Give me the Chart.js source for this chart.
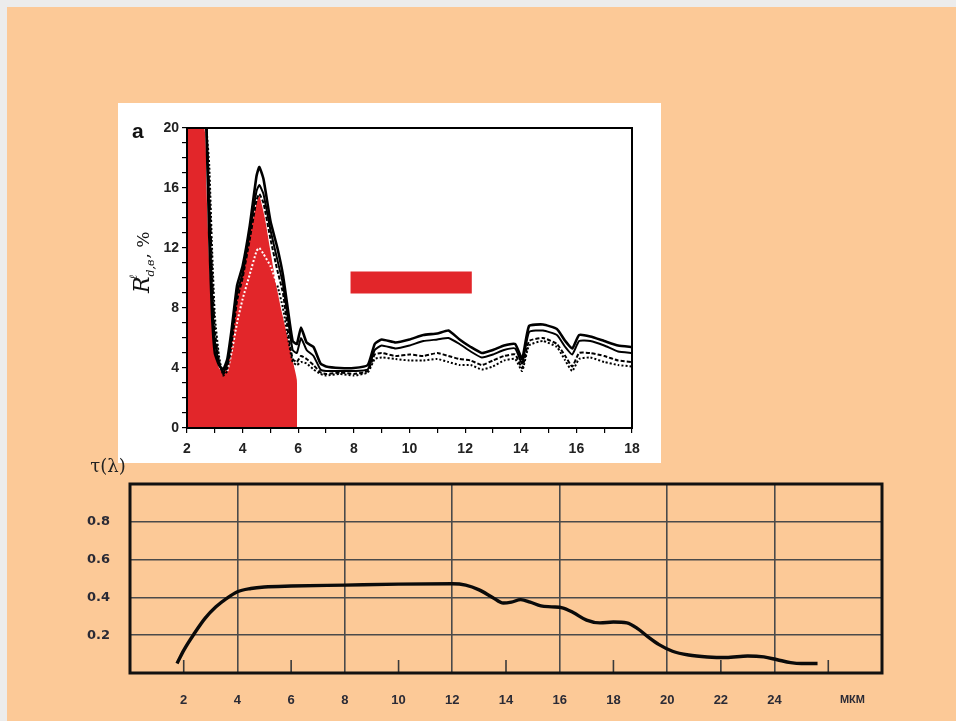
<!DOCTYPE html>
<html>
<head>
<meta charset="utf-8">
<script src="https://cdn.jsdelivr.net/npm/chart.js@4.4.1/dist/chart.umd.min.js"></script>
<style>
  html, body { margin: 0; padding: 0; width: 956px; height: 721px; overflow: hidden; background: #ececec; }
  #bg { position: absolute; left: 7px; top: 7px; width: 949px; height: 714px; background: #fcc997; }
  #topBox { position: absolute; left: 118px; top: 103px; width: 543px; height: 360px; background: #fff; }
  #bottomBox { position: absolute; left: 40px; top: 455px; width: 880px; height: 266px; }
</style>
</head>
<body>
<div id="bg"></div>
<div id="topBox"><canvas id="topChart" width="543" height="360"></canvas></div>
<div id="bottomBox"><canvas id="bottomChart" width="880" height="266"></canvas></div>

<script>
// ---- top chart (a): reflectance, % vs wavelength, мкм ----
const wl = [2.7, 2.8, 2.9, 3.0, 3.15, 3.3, 3.45, 3.6, 3.8, 4.0, 4.25, 4.5, 4.6, 4.75, 5.0, 5.25, 5.45, 5.65, 5.8, 5.95,
            6.1, 6.3, 6.55, 6.8, 7.0, 7.5, 8.0, 8.5, 8.75, 9.0, 9.5, 10.0, 10.5, 11.0, 11.4, 11.8, 12.2, 12.6, 13.0, 13.4,
            13.8, 14.05, 14.3, 14.8, 15.3, 15.6, 15.85, 16.1, 16.5, 17.0, 17.5, 18.0];
const refl1 = [20, 12.8, 7.6, 5.0, 4.2, 3.9, 4.6, 6.5, 9.5, 10.8, 13.4, 16.8, 17.4, 16.6, 13.8, 12.0, 10.2, 7.6, 5.8, 5.6,
               6.7, 5.7, 5.4, 4.3, 4.1, 4.0, 4.0, 4.2, 5.6, 5.9, 5.7, 5.9, 6.2, 6.3, 6.5, 5.9, 5.4, 5.0, 5.2, 5.5,
               5.6, 4.6, 6.8, 6.9, 6.6, 5.8, 5.3, 6.2, 6.1, 5.8, 5.5, 5.4];
const refl2 = [20, 14.5, 9.0, 5.8, 4.3, 3.7, 4.3, 6.0, 9.0, 10.3, 13.0, 15.8, 16.2, 15.6, 13.2, 11.2, 9.6, 7.0, 5.2, 5.0,
               6.0, 5.2, 4.8, 3.9, 3.8, 3.8, 3.8, 3.9, 5.2, 5.5, 5.3, 5.5, 5.8, 5.9, 6.0, 5.6, 5.1, 4.7, 4.9, 5.2,
               5.3, 4.3, 6.4, 6.5, 6.2, 5.4, 4.9, 5.8, 5.8, 5.5, 5.1, 5.0];
const refl3 = [20, 16, 10.5, 6.5, 4.5, 3.6, 4.0, 5.5, 8.5, 10.0, 12.5, 15.2, 15.6, 15.0, 12.6, 10.5, 9.0, 6.2, 4.6, 4.4,
               4.8, 4.6, 4.2, 3.7, 3.6, 3.7, 3.6, 3.8, 4.9, 5.0, 4.8, 4.9, 4.8, 5.0, 4.8, 4.6, 4.5, 4.2, 4.5, 4.8,
               4.9, 4.0, 5.8, 6.0, 5.6, 4.8, 4.1, 5.0, 5.0, 4.8, 4.5, 4.4];
const refl4 = [20, 17.5, 12, 7.5, 4.8, 3.5, 3.8, 5.0, 7.0, 8.6, 10.2, 11.8, 12.0, 11.6, 10.8, 9.5, 8.0, 5.8, 4.4, 4.2,
               4.4, 4.3, 3.9, 3.6, 3.5, 3.6, 3.5, 3.7, 4.6, 4.7, 4.6, 4.5, 4.5, 4.6, 4.4, 4.2, 4.2, 3.9, 4.1, 4.5,
               4.6, 3.8, 5.5, 5.8, 5.4, 4.5, 3.8, 4.6, 4.7, 4.4, 4.2, 4.1];
// red filled band (2–6 мкм)
const redX = [2, 2.62, 2.7, 2.8, 2.9, 3.0, 3.15, 3.3, 3.45, 3.6, 3.8, 4.0, 4.25, 4.5, 4.6, 4.8, 5.0, 5.2, 5.4, 5.6, 5.8, 5.95, 5.96];
const redY = [20, 20, 16, 11, 7.5, 5.2, 4.0, 3.7, 4.3, 6.0, 9.0, 10.5, 12.8, 15.0, 15.5, 14.0, 11.8, 9.6, 7.8, 6.2, 4.5, 3.2, 0];
// red marker bar
const barX = [7.88, 12.24];
const barY = [9.7, 9.7];

// ---- bottom chart: transmission τ(λ) ----
const tauX = [1.75, 2.0, 2.4, 2.8, 3.2, 3.6, 4.0, 4.5, 5.0, 6.0, 8.0, 10.0, 12.0, 12.5, 13.0, 13.5, 13.9, 14.2, 14.55, 14.9,
              15.3, 15.7, 16.1, 16.5, 17.0, 17.5, 18.0, 18.5, 18.9, 19.3, 19.7, 20.2, 20.8, 21.5, 22.2, 23.0, 23.6, 24.1, 24.6, 25.0, 25.6];
const tauY = [0.05, 0.12, 0.21, 0.29, 0.35, 0.395, 0.43, 0.447, 0.455, 0.46, 0.465, 0.47, 0.472, 0.465, 0.44, 0.40, 0.37, 0.375, 0.388, 0.375,
              0.355, 0.35, 0.345, 0.32, 0.28, 0.265, 0.27, 0.265, 0.235, 0.19, 0.15, 0.115, 0.095, 0.085, 0.082, 0.09, 0.085, 0.07, 0.055, 0.05, 0.05];
const minorMarks = [2, 6, 10, 14, 18, 22, 26];
const unitLabel = 'мкм';

const pts = (xs, ys) => xs.map((x, i) => ({ x: x, y: ys[i] }));

const topDecor = {
    id: 'topDecor',
    afterDatasetsDraw(chart) {
        const { ctx, chartArea: a } = chart;
        ctx.save();
        ctx.strokeStyle = '#000';
        ctx.lineWidth = 2;
        ctx.strokeRect(a.left, a.top, a.right - a.left, a.bottom - a.top);
        // panel letter
        ctx.fillStyle = '#111';
        ctx.font = 'bold 21px "Liberation Sans", Arial, sans-serif';
        ctx.textBaseline = 'alphabetic';
        ctx.fillText('a', 14, 35);
        // y axis title, rotated
        ctx.translate(31, 190);
        ctx.rotate(-Math.PI / 2);
        let x = 0;
        ctx.font = 'italic 22px "DejaVu Serif", serif';
        ctx.fillText('R', x, 0);
        x += ctx.measureText('R').width;
        ctx.font = 'italic 11px "DejaVu Serif", serif';
        ctx.fillText('ℓ', x - 3, -12);
        ctx.fillText('d,в', x, 5);
        x += ctx.measureText('d,в').width + 1;
        ctx.font = '17px "DejaVu Serif", serif';
        ctx.fillText(', %', x, 0);
        ctx.restore();
    }
};

new Chart(document.getElementById('topChart'), {
    type: 'line',
    data: {
        datasets: [
            { data: pts(wl, refl1), borderColor: '#000', borderWidth: 2.6, order: 1 },
            { data: pts(wl, refl2), borderColor: '#000', borderWidth: 2, order: 2 },
            { data: pts(wl, refl3), borderColor: '#000', borderWidth: 2, borderDash: [4, 2], order: 3 },
            { data: pts(wl, refl4), borderColor: '#000', borderWidth: 2, borderDash: [2, 2], order: 4,
              segment: { borderColor: c => (c.p0.parsed.x >= 3.45 && c.p0.parsed.x < 5.2) ? '#ffffff' : '#000' } },
            { data: pts(barX, barY), borderColor: '#e2262a', borderWidth: 22, borderCapStyle: 'butt', order: 9 },
            { data: pts(redX, redY), borderWidth: 0, borderColor: 'rgba(0,0,0,0)', backgroundColor: '#e2262a', fill: 'origin', order: 10 }
        ]
    },
    options: {
        responsive: false,
        animation: false,
        elements: { point: { radius: 0 }, line: { tension: 0.15 } },
        layout: { padding: { left: 0, right: 29, top: 25, bottom: 0 } },
        plugins: { legend: { display: false }, tooltip: { enabled: false } },
        scales: {
            x: {
                type: 'linear', min: 2, max: 18,
                afterFit: s => { s.height = 35; },
                grid: { drawOnChartArea: false, tickLength: 5, color: '#000', lineWidth: 1.2 },
                border: { color: '#000', width: 2 },
                ticks: { stepSize: 1, autoSkip: false, maxRotation: 0, padding: 8, color: '#222',
                         font: { family: '"Liberation Sans", Arial, sans-serif', size: 14, weight: 'bold' },
                         callback: v => (v % 2 === 0 ? String(v) : '') }
            },
            y: {
                min: 0, max: 20,
                afterFit: s => { s.width = 69; },
                grid: { drawOnChartArea: false, tickLength: 5, color: '#000', lineWidth: 1.2 },
                border: { color: '#000', width: 2 },
                ticks: { stepSize: 1, autoSkip: false, padding: 3, color: '#222',
                         font: { family: '"Liberation Sans", Arial, sans-serif', size: 14, weight: 'bold' },
                         callback: v => (v % 4 === 0 ? String(v) : '') }
            }
        }
    },
    plugins: [topDecor]
});

const bottomDecor = {
    id: 'bottomDecor',
    afterDatasetsDraw(chart) {
        const { ctx, chartArea: a, scales } = chart;
        ctx.save();
        // short marks rising from the base line
        ctx.strokeStyle = '#3a3a3a';
        ctx.lineWidth = 1.6;
        const y0 = scales.y.getPixelForValue(0);
        minorMarks.forEach(m => {
            const px = scales.x.getPixelForValue(m);
            ctx.beginPath();
            ctx.moveTo(px, y0);
            ctx.lineTo(px, y0 - 13);
            ctx.stroke();
        });
        // frame
        ctx.strokeStyle = '#111';
        ctx.lineWidth = 3;
        ctx.strokeRect(a.left, a.top, a.right - a.left, a.bottom - a.top);
        // texts
        ctx.fillStyle = '#2a2a35';
        ctx.font = 'bold 11px "Liberation Sans", Arial, sans-serif';
        ctx.textAlign = 'center';
        ctx.textBaseline = 'middle';
        ctx.fillText(unitLabel.toUpperCase(), scales.x.getPixelForValue(26.9), 245);
        ctx.fillStyle = '#222';
        ctx.font = '18px "DejaVu Serif", serif';
        ctx.fillText('τ(λ)', a.left - 22, a.top - 17);
        ctx.restore();
    }
};

new Chart(document.getElementById('bottomChart'), {
    type: 'line',
    data: {
        datasets: [
            { data: pts(tauX, tauY), borderColor: '#0a0a0a', borderWidth: 3.4, cubicInterpolationMode: 'monotone', pointRadius: 0 }
        ]
    },
    options: {
        responsive: false,
        animation: false,
        layout: { padding: { left: 0, right: 38, top: 29, bottom: 0 } },
        plugins: { legend: { display: false }, tooltip: { enabled: false } },
        scales: {
            x: {
                type: 'linear', min: 0, max: 28,
                afterFit: s => { s.height = 48; },
                grid: { drawTicks: false, lineWidth: 1.6,
                        color: c => (c.tick.value % 4 === 0 && c.tick.value > 0 && c.tick.value < 28) ? '#4a4a4a' : 'rgba(0,0,0,0)' },
                border: { display: false },
                ticks: { stepSize: 2, autoSkip: false, maxRotation: 0, padding: 20, color: '#2a2a35',
                         font: { family: '"Liberation Sans", Arial, sans-serif', size: 13, weight: 'bold' },
                         callback: v => (v >= 2 && v <= 24 ? String(v) : '') }
            },
            y: {
                min: 0, max: 1,
                afterFit: s => { s.width = 90; },
                grid: { drawTicks: false, lineWidth: 1.6,
                        color: c => (c.tick.value > 0.01 && c.tick.value < 0.99) ? '#4a4a4a' : 'rgba(0,0,0,0)' },
                border: { display: false },
                ticks: { stepSize: 0.2, padding: 20, color: '#2a2a35',
                         font: { family: '"DejaVu Sans", sans-serif', size: 13, weight: 'bold' },
                         callback: v => (v > 0.01 && v < 0.99 ? v.toFixed(1) : '') }
            }
        }
    },
    plugins: [bottomDecor]
});
</script>
</body>
</html>
